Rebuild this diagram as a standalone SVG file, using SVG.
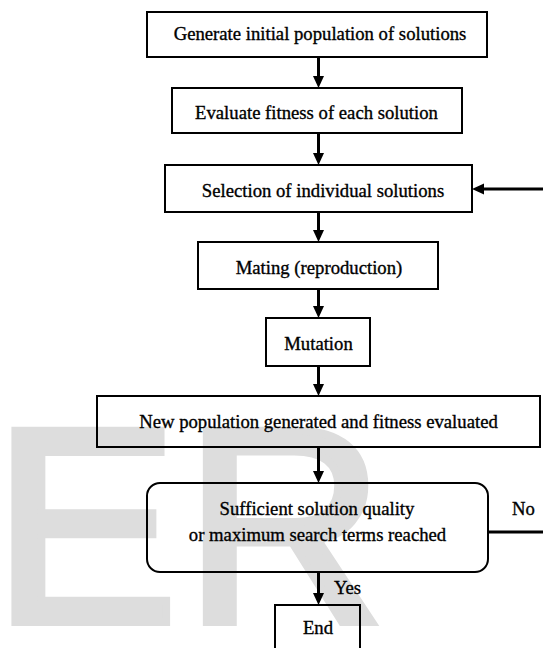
<svg xmlns="http://www.w3.org/2000/svg" width="543" height="648" viewBox="0 0 543 648">
<style>
.box{fill:none;stroke:#000;stroke-width:2}
.t{font-family:"Liberation Serif","Times New Roman",serif;font-size:18.7px;fill:#000;stroke:#000;stroke-width:0.35;text-anchor:middle}
.c{fill:none;stroke:#000;stroke-width:3}
.wm{font-family:"Liberation Sans",Arial,sans-serif;font-size:278px;fill:#dddddd;stroke:#dddddd;stroke-width:8;stroke-linejoin:miter;letter-spacing:6px}
</style>
<defs>
<marker id="ah" markerUnits="userSpaceOnUse" markerWidth="12" markerHeight="12" viewBox="0 0 12 12" refX="2" refY="5.5" orient="auto">
<path d="M0,0 L12,5.5 L0,11 Z" fill="#000"/>
</marker>
</defs>
<rect width="543" height="648" fill="#fff"/>
<text class="wm" x="-7.4" y="622">ER</text>
<g id="connectors">
<path class="c" d="M318.5,57 V78" marker-end="url(#ah)"/>
<path class="c" d="M318.5,133 V155" marker-end="url(#ah)"/>
<path class="c" d="M318.5,212 V232" marker-end="url(#ah)"/>
<path class="c" d="M318.5,289 V308" marker-end="url(#ah)"/>
<path class="c" d="M318.5,366 V386" marker-end="url(#ah)"/>
<path class="c" d="M318.5,447 V473" marker-end="url(#ah)"/>
<path class="c" d="M318.5,572 V595" marker-end="url(#ah)"/>
<path class="c" d="M543,189 H482" marker-end="url(#ah)"/>
<path class="c" d="M488,532 H543"/>
<text class="t" x="523.5" y="515">No</text>
<text class="t" x="347.5" y="594">Yes</text>
</g>
<g id="n1"><rect class="box" x="147" y="12" width="340" height="45"/><text class="t" x="320" y="40">Generate initial population of solutions</text></g>
<g id="n2"><rect class="box" x="172" y="88" width="290" height="45"/><text class="t" x="316.5" y="119">Evaluate fitness of each solution</text></g>
<g id="n3"><rect class="box" x="165" y="165" width="307" height="47"/><text class="t" x="323" y="197">Selection of individual solutions</text></g>
<g id="n4"><rect class="box" x="198" y="242" width="240" height="47"/><text class="t" x="319" y="274">Mating (reproduction)</text></g>
<g id="n5"><rect class="box" x="266" y="318" width="104" height="48"/><text class="t" x="318.5" y="350">Mutation</text></g>
<g id="n6"><rect class="box" x="97" y="396" width="443" height="51"/><text class="t" x="318.5" y="428">New population generated and fitness evaluated</text></g>
<g id="n7"><rect class="box" x="147" y="483" width="341" height="89" rx="13"/><text class="t" x="317" y="515">Sufficient solution quality</text><text class="t" x="317.5" y="541">or maximum search terms reached</text></g>
<g id="n8"><rect class="box" x="275" y="605" width="85" height="60"/><text class="t" x="318" y="634">End</text></g>
</svg>
